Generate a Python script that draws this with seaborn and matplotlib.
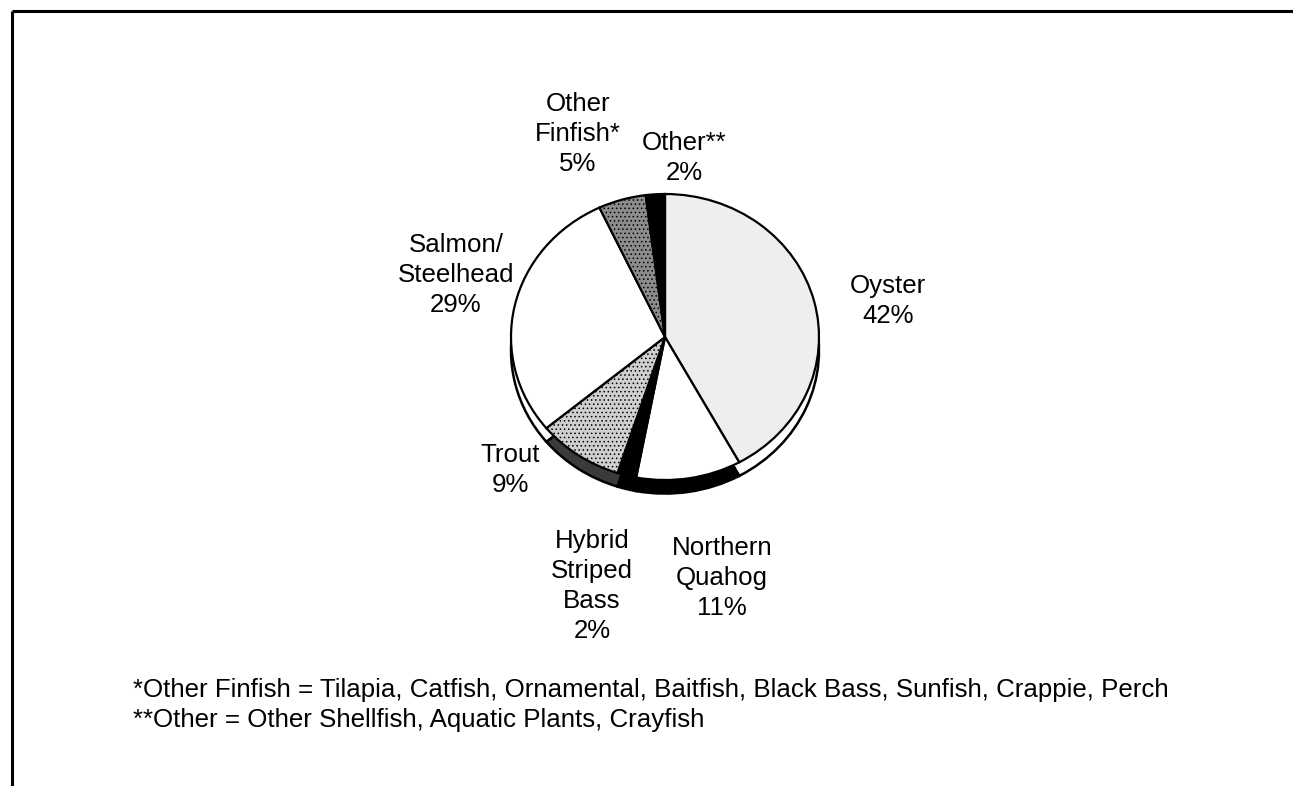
import matplotlib
matplotlib.use("Agg")
import matplotlib.pyplot as plt
import seaborn as sns

# Aquaculture sales by species (share of total, %)
species = ["Oyster", "Northern\nQuahog", "Hybrid\nStriped\nBass", "Trout",
           "Salmon/\nSteelhead", "Other\nFinfish*", "Other**"]
shares = [42, 11, 2, 9, 29, 5, 2]

footnotes = [
    "*Other Finfish = Tilapia, Catfish, Ornamental, Baitfish, Black Bass, Sunfish, Crappie, Perch",
    "**Other = Other Shellfish, Aquatic Plants, Crayfish",
]

# styling (kept apart from the data)
face_colors = ["#eeeeee", "white", "black", "#cfcfcf", "white", "#8c8c8c", "black"]
rim_colors = ["white", "black", "black", "#3a3a3a", "white", "#555555", "black"]
hatches = [None, None, None, "....", None, "....", None]
label_xy = [(888, 301), (722, 578), (592, 586), (510, 470),
            (456, 275), (578, 134), (684, 158)]

sns.set_theme(style="white")
plt.rcParams["font.family"] = ["Liberation Sans", "DejaVu Sans"]
plt.rcParams["hatch.linewidth"] = 0.6

W, H = 1293, 786
fig = plt.figure(figsize=(W / 100, H / 100), dpi=100)

# full-figure axes in pixel coordinates for frame and text
bg = fig.add_axes([0, 0, 1, 1])
bg.set_xlim(0, W)
bg.set_ylim(H, 0)
bg.axis("off")
bg.plot([12, W], [11, 11], color="black", lw=2.2, solid_capstyle="butt")
bg.plot([12, 12], [11, H], color="black", lw=2.2, solid_capstyle="butt")

# pie axes: slightly squashed ellipse
cx, cy, rx, ry = 665, 337, 154, 143
ax_h = ry * 2.2
ax = fig.add_axes([(cx - rx) / W, 1 - (cy - ry + ax_h) / H, 2 * rx / W, ax_h / H])

# rim (3D edge) drawn first, shifted down
rim, _ = ax.pie(shares, startangle=90, counterclock=False, center=(0, -0.095),
                colors=rim_colors,
                wedgeprops=dict(edgecolor="black", linewidth=1.8))
top, _ = ax.pie(shares, startangle=90, counterclock=False, center=(0, 0),
                colors=face_colors,
                wedgeprops=dict(edgecolor="black", linewidth=1.6))
for w, h in zip(top, hatches):
    if h:
        w.set_hatch(h)
ax.set_aspect("auto")
ax.set_xlim(-1.0, 1.0)
ax.set_ylim(-1.2, 1.0)
ax.axis("off")
for p in ax.patches:
    p.set_clip_on(False)

for name, v, (x, y) in zip(species, shares, label_xy):
    bg.text(x, y, f"{name}\n{v}%", ha="center", va="center",
            multialignment="center", fontsize=18.6, linespacing=1.3, color="black")

for i, note in enumerate(footnotes):
    bg.text(133, 690 + 30 * i, note, ha="left", va="center", fontsize=18.6, color="black")

fig.savefig("out.png", dpi=100, facecolor="white")
